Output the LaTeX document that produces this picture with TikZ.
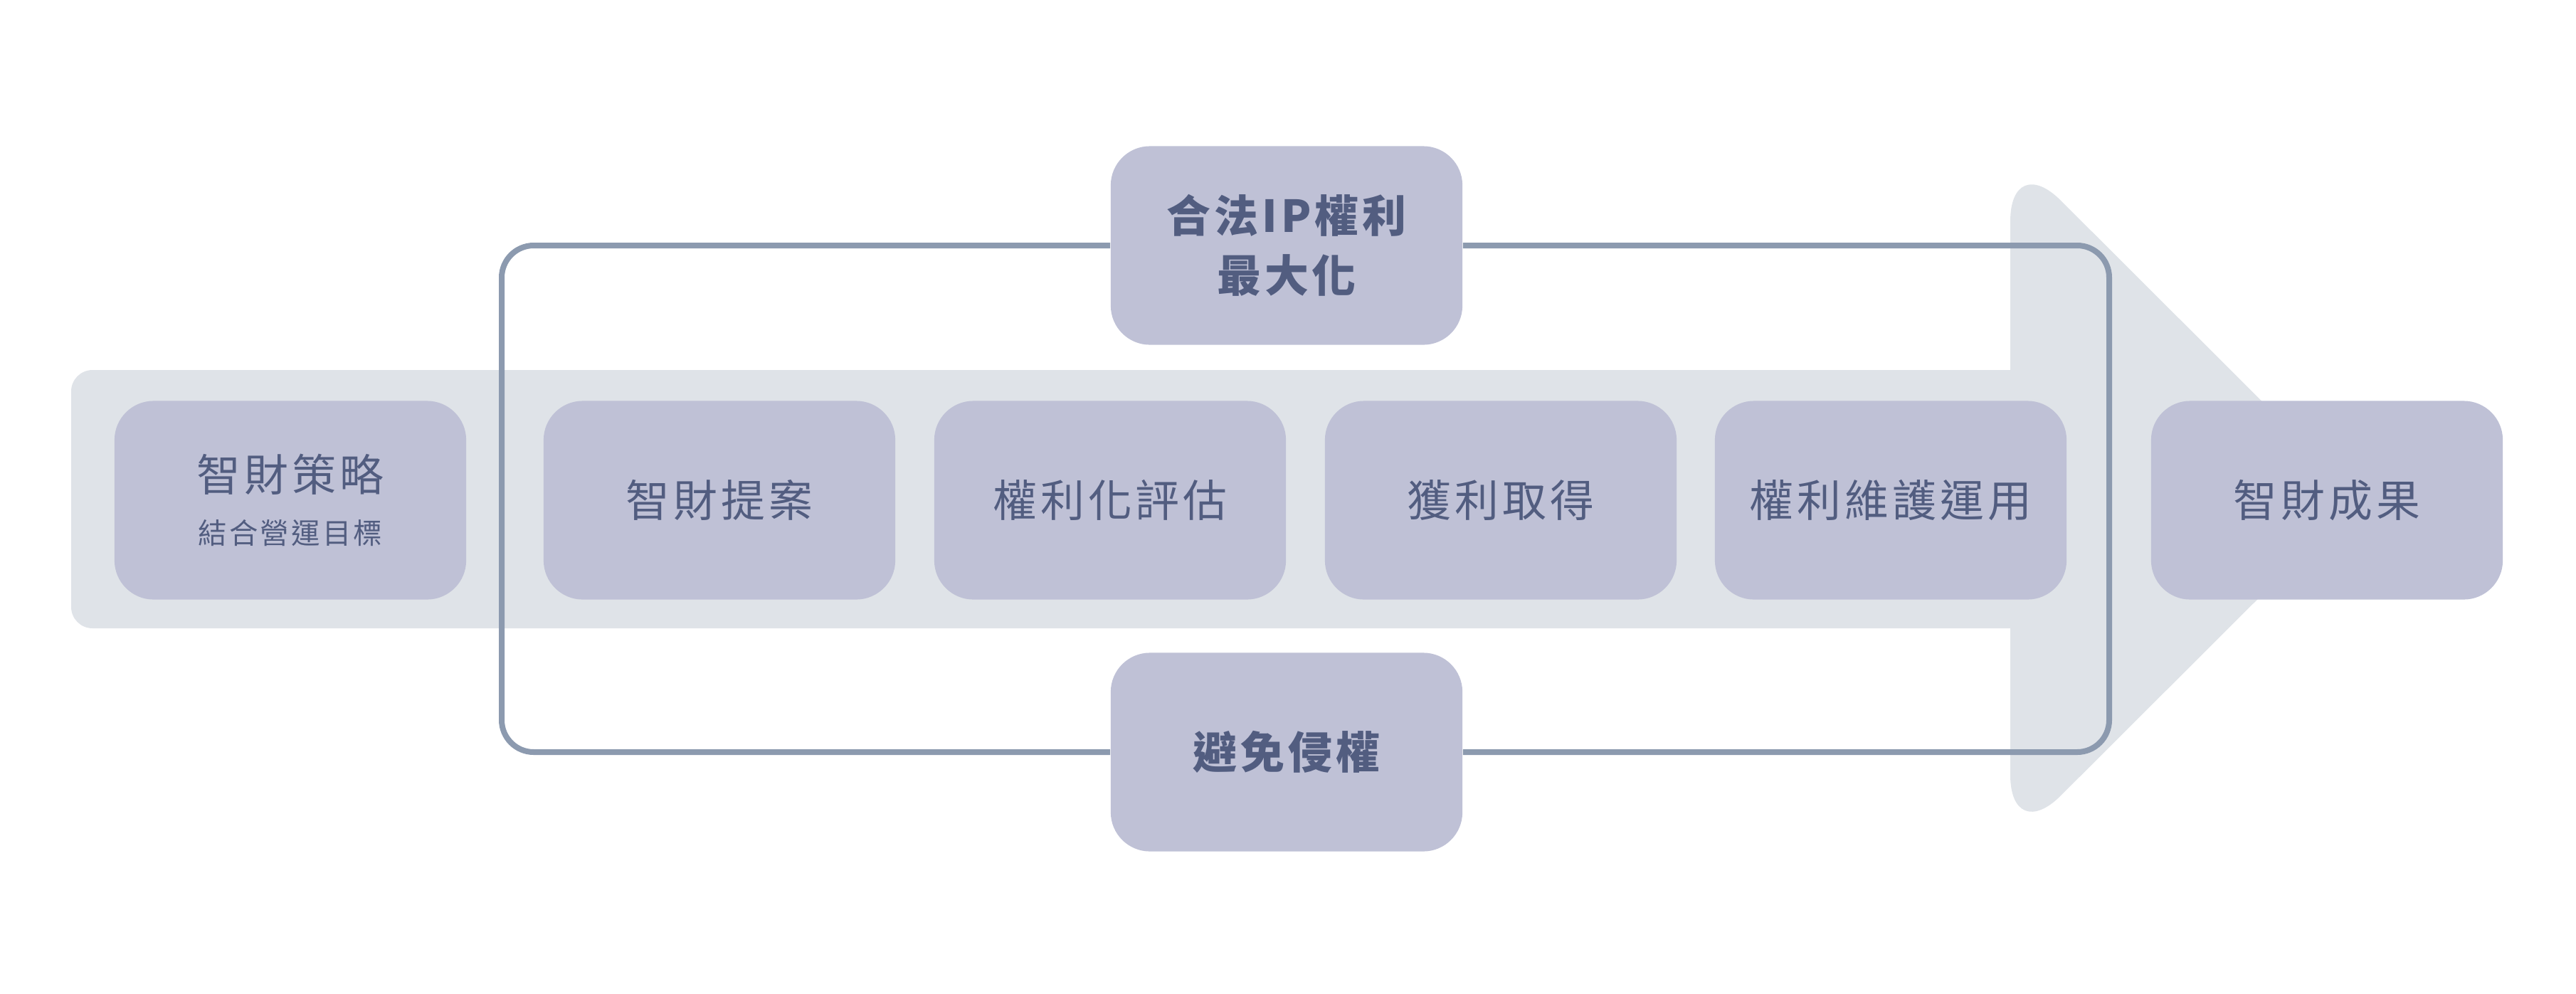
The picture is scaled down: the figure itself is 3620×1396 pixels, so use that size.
\documentclass[tikz,border=0pt]{standalone}
\usepackage{fontspec}
\setmainfont{Noto Sans CJK TC}[LetterSpace=8]
\usetikzlibrary{positioning}

\definecolor{boxfill}{HTML}{BFC1D6}
\definecolor{bandfill}{HTML}{DFE3E8}
\definecolor{loopcol}{HTML}{8C9AAF}
\definecolor{textcol}{HTML}{525D80}

\tikzset{
  ipbox/.style={fill=boxfill, rounded corners=0.55cm, minimum width=4.94cm,
    minimum height=2.79cm, text=textcol, align=center,
    font=\fontsize{17.6}{24}\selectfont},
  keybox/.style={ipbox, font=\fontsize{17.6}{24}\selectfont\bfseries},
  loopline/.style={draw=loopcol, line width=0.08cm, rounded corners=0.45cm},
}

\begin{document}
\begin{tikzpicture}[x=0.01cm, y=-0.01cm]
  \useasboundingbox (0,0) rectangle (3620,1396);

  % the big arrow in the back
  \fill[bandfill, rounded corners=0.3cm] (100,520) rectangle (2900,883);
  \fill[bandfill, rounded corners=1cm] (2825,211) -- (3315,700) -- (2825,1189) -- cycle;

  \node[ipbox] (strategy) at (408,703) {智財策略\\[-3pt]{\fontsize{11.5}{14}\selectfont 結合營運目標}};
  \node[ipbox] (proposal) at (1011,703) {智財提案};
  \node[ipbox] (evaluate) at (1560,703) {權利化評估};
  \node[ipbox] (gain) at (2109,703) {獲利取得};
  \node[ipbox] (maintain) at (2657,703) {權利維護運用};
  \node[ipbox] (result) at (3270,703) {智財成果};

  \node[keybox] (maximize) at (1808,345) {合法IP權利\\最大化};
  \node[keybox] (avoid) at (1808,1057) {避免侵權};

  % loop round the middle steps
  \coordinate (loopL) at (705,700);
  \coordinate (loopR) at (2964,700);
  \draw[loopline] (maximize.west) -| (loopL) |- (avoid.west);
  \draw[loopline] (maximize.east) -| (loopR) |- (avoid.east);
\end{tikzpicture}
\end{document}
